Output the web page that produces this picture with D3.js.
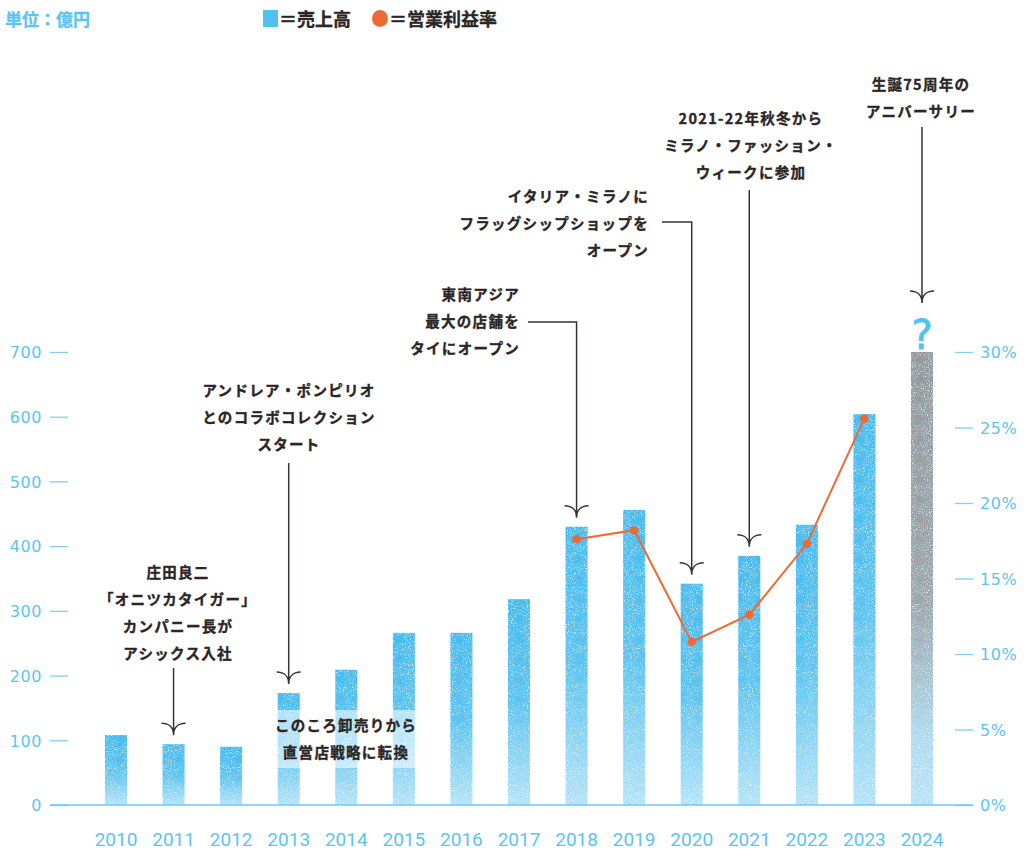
<!DOCTYPE html>
<html><head><meta charset="utf-8">
<script src="https://cdn.jsdelivr.net/npm/d3@7/dist/d3.min.js"></script>
<style>
html,body{margin:0;padding:0;background:#fff;}
svg{display:block;}
</style></head>
<body>
<svg id="c" width="1024" height="853"></svg>
<script>
// ---- data ----
const years = ["2010","2011","2012","2013","2014","2015","2016","2017","2018","2019","2020","2021","2022","2023","2024"];
const sales = [108, 94, 90, 173, 209, 266, 266, 318, 430, 456, 342, 385, 433, 604, 700];
const marginYears = ["2018","2019","2020","2021","2022","2023"];
const marginValues = [17.6, 18.2, 10.8, 12.6, 17.3, 25.6];
const leftTicks = [0,100,200,300,400,500,600,700];
const rightTicks = [0,5,10,15,20,25,30];
const unitLabel = "単位：億円";
const legendSales = "＝売上高";
const legendMargin = "＝営業利益率";
const notes = [
  {year:"2011", lines:["庄田良二","「オニツカタイガー」","カンパニー長が","アシックス入社"]},
  {year:"2013", lines:["アンドレア・ポンピリオ","とのコラボコレクション","スタート"]},
  {year:"2013b", lines:["このころ卸売りから","直営店戦略に転換"]},
  {year:"2018", lines:["東南アジア","最大の店舗を","タイにオープン"]},
  {year:"2020", lines:["イタリア・ミラノに","フラッグシップショップを","オープン"]},
  {year:"2021", lines:["2021-22年秋冬から","ミラノ・ファッション・","ウィークに参加"]},
  {year:"2024", lines:["生誕75周年の","アニバーサリー"]}
];

// ---- setup ----
const svg = d3.select("#c");
const BLUE_TXT = "#5cc4f0", DARK = "#2b2525", ORANGE = "#ee6a32";
const x = d3.scalePoint().domain(years).range([116, 922]);
const yL = d3.scaleLinear().domain([0,700]).range([805,352]);
const yR = d3.scaleLinear().domain([0,30]).range([805,352]);
const bw = 22;

const defs = svg.append("defs");
const g1 = defs.append("linearGradient").attr("id","gBlue").attr("x1",0).attr("y1",0).attr("x2",0).attr("y2",1);
g1.append("stop").attr("offset",0).attr("stop-color","#44bbee");
g1.append("stop").attr("offset",0.5).attr("stop-color","#5cc3f0");
g1.append("stop").attr("offset",1).attr("stop-color","#bce5f8");
const g2 = defs.append("linearGradient").attr("id","gGrey").attr("x1",0).attr("y1",0).attr("x2",0).attr("y2",1);
g2.append("stop").attr("offset",0).attr("stop-color","#989898");
g2.append("stop").attr("offset",0.55).attr("stop-color","#a2a4a6");
g2.append("stop").attr("offset",0.85).attr("stop-color","#b4dbee");
g2.append("stop").attr("offset",1).attr("stop-color","#bee5f8");

const f = defs.append("filter").attr("id","noise").attr("x",0).attr("y",0).attr("width",1).attr("height",1);
f.append("feTurbulence").attr("type","fractalNoise").attr("baseFrequency",0.95).attr("numOctaves",2).attr("seed",7).attr("result","t");
f.append("feColorMatrix").attr("in","t").attr("type","matrix")
  .attr("values","0 0 0 0 1  0 0 0 0 1  0 0 0 0 1  3 0 0 0 -1.75").attr("result","w");
f.append("feComposite").attr("in","w").attr("in2","SourceGraphic").attr("operator","in").attr("result","wc");
f.append("feColorMatrix").attr("in","t").attr("type","matrix")
  .attr("values","0 0 0 0 0.25  0 0 0 0 0.7  0 0 0 0 0.93  0 3 0 0 -1.6").attr("result","b");
f.append("feComposite").attr("in","b").attr("in2","SourceGraphic").attr("operator","in").attr("result","bc");
const fm = f.append("feMerge");
fm.append("feMergeNode").attr("in","SourceGraphic");
fm.append("feMergeNode").attr("in","bc");
fm.append("feMergeNode").attr("in","wc");

// ---- header ----
const hdr = svg.append("g").attr("font-family","Noto Sans CJK JP").attr("font-weight",700);
hdr.append("text").attr("x",5).attr("y",26).text(unitLabel)
  .attr("font-size",17).attr("fill",BLUE_TXT).attr("stroke",BLUE_TXT).attr("stroke-width",0.3);
hdr.append("rect").attr("x",263).attr("y",10).attr("width",15).attr("height",17).attr("fill","#4fc1ef");
hdr.append("text").attr("x",279).attr("y",26).text(legendSales)
  .attr("font-size",18).attr("fill",DARK).attr("stroke",DARK).attr("stroke-width",0.3);
hdr.append("ellipse").attr("cx",380).attr("cy",18.5).attr("rx",8).attr("ry",8.5).attr("fill",ORANGE);
hdr.append("text").attr("x",389).attr("y",26).text(legendMargin)
  .attr("font-size",18).attr("fill",DARK).attr("stroke",DARK).attr("stroke-width",0.3);

// ---- bars ----
svg.append("g").selectAll("rect").data(years).join("rect")
  .attr("x", d => x(d) - bw/2)
  .attr("y", (d,i) => yL(sales[i]))
  .attr("width", bw)
  .attr("height", (d,i) => yL(0) - yL(sales[i]))
  .attr("fill", d => d === "2024" ? "url(#gGrey)" : "url(#gBlue)")
  .attr("filter","url(#noise)");

// ---- axes ----
const axL = svg.append("g").attr("transform","translate(68,0)")
  .call(d3.axisLeft(yL).tickValues(leftTicks).tickSize(18).tickPadding(8));
const axR = svg.append("g").attr("transform","translate(955,0)")
  .call(d3.axisRight(yR).tickValues(rightTicks).tickSize(18).tickPadding(7).tickFormat(d => d + "%"));
[axL, axR].forEach(a => {
  a.select(".domain").remove();
  a.selectAll(".tick line").attr("stroke","#7fd0f2").attr("stroke-width",1.3);
  a.selectAll(".tick text").attr("fill",BLUE_TXT).attr("font-family","DejaVu Sans")
    .attr("font-size",16).attr("letter-spacing",0.6).attr("dy","0.36em");
});
svg.append("line").attr("x1",50).attr("x2",973).attr("y1",yL(0)).attr("y2",yL(0))
  .attr("stroke","#6ccaf1").attr("stroke-width",1.6);

// year labels
svg.append("g").selectAll("text").data(years).join("text")
  .attr("x", d => x(d)).attr("y", 846).attr("text-anchor","middle").text(d => d)
  .attr("font-family","Roboto").attr("font-size",19).attr("fill",BLUE_TXT);

// ---- 2013 note background ----
svg.append("rect").attr("x",268).attr("y",710).attr("width",154).attr("height",58)
  .attr("fill","#fff").attr("opacity",0.55);

// ---- margin line ----
const pts = marginYears.map((d,i) => [x(d), yR(marginValues[i])]);
svg.append("path").attr("d", d3.line()(pts)).attr("fill","none").attr("stroke",ORANGE).attr("stroke-width",2);
svg.append("g").selectAll("circle").data(pts).join("circle")
  .attr("cx", d => d[0]).attr("cy", d => d[1]).attr("r",4.3).attr("fill",ORANGE);

// ---- annotations ----
const ann = svg.append("g").attr("font-family","Noto Sans CJK JP").attr("font-weight",700)
  .attr("font-size",14.5).attr("letter-spacing",1.3).attr("fill",DARK)
  .attr("stroke",DARK).attr("stroke-width",0.35);
function textBlock(lines, tx, ty, anchor){
  const t = ann.append("text").attr("text-anchor",anchor);
  lines.forEach((l,i)=> t.append("tspan").attr("x",tx).attr("y",ty + i*27).text(l));
}
const LINE = "#3a3232";
function arrow(xx, y0, tip, elbowX){
  const p = d3.path();
  if (elbowX !== undefined){ p.moveTo(elbowX, y0); p.lineTo(xx, y0); } else p.moveTo(xx, y0);
  p.lineTo(xx, tip);
  p.moveTo(xx-12, tip-12); p.bezierCurveTo(xx-4, tip-12, xx, tip-7, xx, tip);
  p.moveTo(xx+12, tip-12); p.bezierCurveTo(xx+4, tip-12, xx, tip-7, xx, tip);
  svg.append("path").attr("d", p.toString()).attr("fill","none").attr("stroke",LINE).attr("stroke-width",1.5);
}
const idx = y => years.indexOf(y);
const tipOf = y => yL(sales[idx(y)]) - 9;

textBlock(notes[0].lines, 178, 578, "middle");
arrow(x("2011"), 668, tipOf("2011"));
textBlock(notes[1].lines, 289, 396, "middle");
arrow(x("2013"), 463, tipOf("2013"));
textBlock(notes[2].lines, 346, 731, "middle");
textBlock(notes[3].lines, 520, 300, "end");
arrow(x("2018"), 322, tipOf("2018"), 528);
textBlock(notes[4].lines, 649, 202, "end");
arrow(x("2020"), 222, tipOf("2020"), 662);
textBlock(notes[5].lines, 751, 124, "middle");
arrow(x("2021"), 190, tipOf("2021"));
textBlock(notes[6].lines, 921, 90, "middle");
arrow(x("2024"), 127, yL(sales[idx("2024")]) - 49);
svg.append("text").attr("x", x("2024")).attr("y", yL(sales[idx("2024")]) - 3).attr("text-anchor","middle")
  .text("?").attr("font-family","DejaVu Sans").attr("font-weight",400).attr("font-size",40)
  .attr("fill","#4fc3f1").attr("stroke","#4fc3f1").attr("stroke-width",0.8);
</script>
</body></html>
